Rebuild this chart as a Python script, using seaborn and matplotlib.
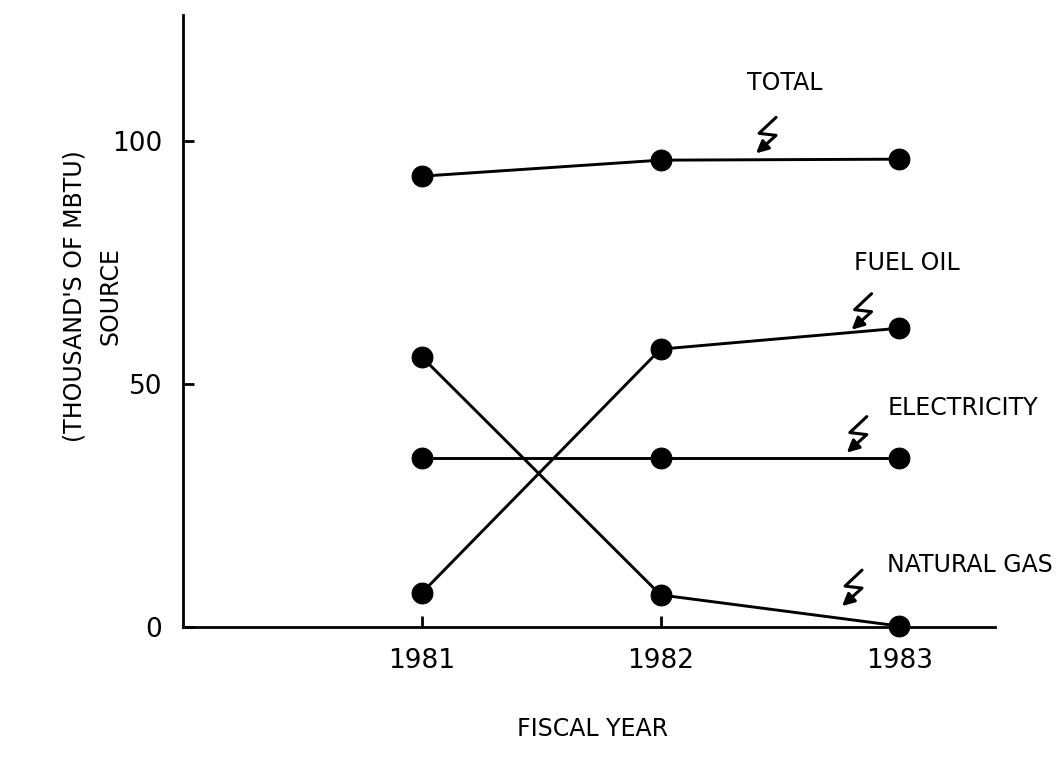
import matplotlib
matplotlib.use("Agg")
import matplotlib.pyplot as plt
from matplotlib.patches import FancyArrowPatch
from matplotlib.path import Path
from matplotlib.transforms import Affine2D, ScaledTranslation
import pandas as pd
import seaborn as sns

years = [1981, 1982, 1983]
total = [92.8, 96.1, 96.3]
fuel_oil = [7.0, 57.2, 61.5]
electricity = [34.8, 34.8, 34.8]
natural_gas = [55.6, 6.6, 0.2]

series_names = ["TOTAL", "FUEL OIL", "ELECTRICITY", "NATURAL GAS"]
y_ticks = [0, 50, 100]

df = pd.DataFrame({
    "year": years * 4,
    "value": total + fuel_oil + electricity + natural_gas,
    "source": [n for n in series_names for _ in years],
})

sns.set_style("ticks")
plt.rcParams["font.family"] = ["DejaVu Sans"]
plt.rcParams["text.color"] = "black"
plt.rcParams["axes.labelcolor"] = "black"
plt.rcParams["xtick.color"] = "black"
plt.rcParams["ytick.color"] = "black"
plt.rcParams["axes.edgecolor"] = "black"

fig = plt.figure(figsize=(10.64, 7.68), dpi=100)
ax = fig.add_axes([0.172, 0.1836, 0.763, 0.797])

sns.lineplot(data=df, x="year", y="value", units="source", estimator=None,
             color="black", lw=2.1, marker="o", markersize=15,
             markeredgecolor="black", legend=False, ax=ax, clip_on=False)

ax.set_xlim(1980, 1983.4)
ax.set_ylim(0, 126)
ax.set_xticks(years)
ax.set_yticks(y_ticks)
ax.tick_params(direction="in", length=8, width=2, labelsize=19, pad=15)
for s in ["top", "right"]:
    ax.spines[s].set_visible(False)
for s in ["left", "bottom"]:
    ax.spines[s].set_linewidth(2)

ax.set_xlabel("FISCAL YEAR", fontsize=17)
ax.xaxis.set_label_coords(0.504, -0.147)
ax.set_ylabel("(THOUSAND'S OF MBTU)\nSOURCE", fontsize=17, multialignment="center",
              linespacing=1.6)
ax.yaxis.set_label_coords(-0.075, 0.54)

# labels with squiggly arrows: (text, text x, text y, ha, arrow tip x, tip y)
labels = [
    ("TOTAL", 1982.52, 112, "center", 1982.40, 97.5),
    ("FUEL OIL", 1982.81, 75, "left", 1982.80, 61.2),
    ("ELECTRICITY", 1982.95, 45, "left", 1982.78, 35.9),
    ("NATURAL GAS", 1982.95, 12.8, "left", 1982.76, 4.3),
]
zig = [(20, 36), (3, 20), (20, 18), (0, 0)]
for name, tx, ty, ha, px, py in labels:
    ax.text(tx, ty, name, fontsize=17, ha=ha, va="center")
    trans = Affine2D() + ScaledTranslation(px, py, ax.transData)
    path = Path(zig, [Path.MOVETO] + [Path.LINETO] * 3)
    arr = FancyArrowPatch(path=path, transform=trans, arrowstyle="-|>",
                          mutation_scale=18, lw=2.2, color="black",
                          shrinkA=0, shrinkB=0)
    ax.add_patch(arr)

fig.savefig("out.png", dpi=100)
